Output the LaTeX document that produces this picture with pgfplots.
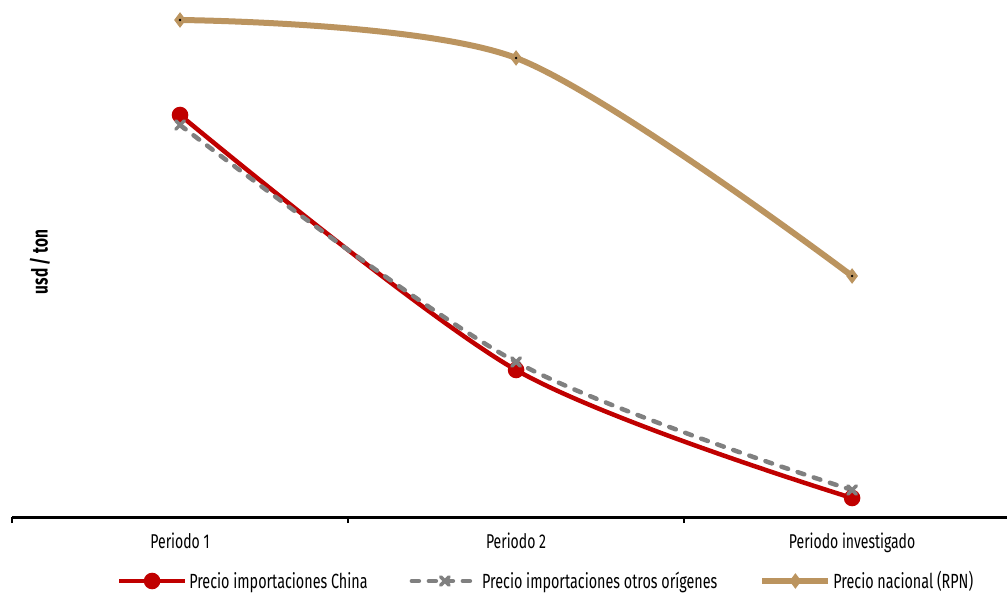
\documentclass[border=0pt]{standalone}
\usepackage{pgfplots}
\pgfplotsset{compat=1.18}
\usepackage{fontspec}
\setmainfont[FakeStretch=0.7]{Fira Sans}
\definecolor{chinared}{HTML}{C00000}
\definecolor{othergray}{HTML}{808080}
\definecolor{rpntan}{HTML}{BB945F}
\begin{document}
\begin{tikzpicture}
\begin{axis}[
    scale only axis,
    width=995pt, height=517pt,
    xmin=-0.5, xmax=2.461,
    ymin=0, ymax=517,
    clip=false,
    axis y line=none,
    axis x line*=bottom,
    axis line style={line width=3pt, -},
    xtick={-0.5,0.5,1.5},
    xticklabels={Periodo 1, Periodo 2, Periodo investigado},
    major tick length=6pt,
    tick align=outside,
    x tick style={line width=2pt, black},
    xticklabel style={font=\fontsize{20}{24}\selectfont, xshift=168pt, yshift=-6pt},
    legend style={at={(534pt,-64pt)}, anchor=center, draw=none,
      font=\fontsize{20.5}{25}\selectfont, legend columns=3,
      /tikz/every even column/.append style={column sep=40pt}},
    legend image code/.code={
      \draw[mark repeat=2, mark phase=2] plot coordinates {(0pt,0pt) (33pt,0pt) (66pt,0pt)};
    },
]
\addplot[chinared, line width=4.5pt, smooth, mark=*, mark size=6pt,
  mark options={solid, fill=chinared}]
  coordinates {(0,402) (1,147) (2,19)};
\addlegendentry{Precio importaciones China}
\addplot[othergray, line width=4.5pt, line cap=round, dash pattern=on 7pt off 10pt, smooth, mark=x, mark size=6pt,
  mark options={solid, line width=3.5pt}]
  coordinates {(0,392) (1,155) (2,27)};
\addlegendentry{Precio importaciones otros orígenes}
\addplot[rpntan, line width=6pt, smooth, mark=diamond*, mark size=7pt,
  mark options={solid, fill=rpntan, line width=1pt}]
  coordinates {(0,497) (1,459) (2,241)};
\addlegendentry{Precio nacional (RPN)}
\addplot[black, only marks, mark=*, mark size=1pt, forget plot]
  coordinates {(0,497) (1,459) (2,241)};
\end{axis}
\node[rotate=90, font=\fontsize{22}{26}\selectfont\bfseries] at (28pt,255pt) {usd / ton};
\pgfresetboundingbox
\path (-12pt,-77pt) rectangle (996pt,517pt);
\end{tikzpicture}
\end{document}
